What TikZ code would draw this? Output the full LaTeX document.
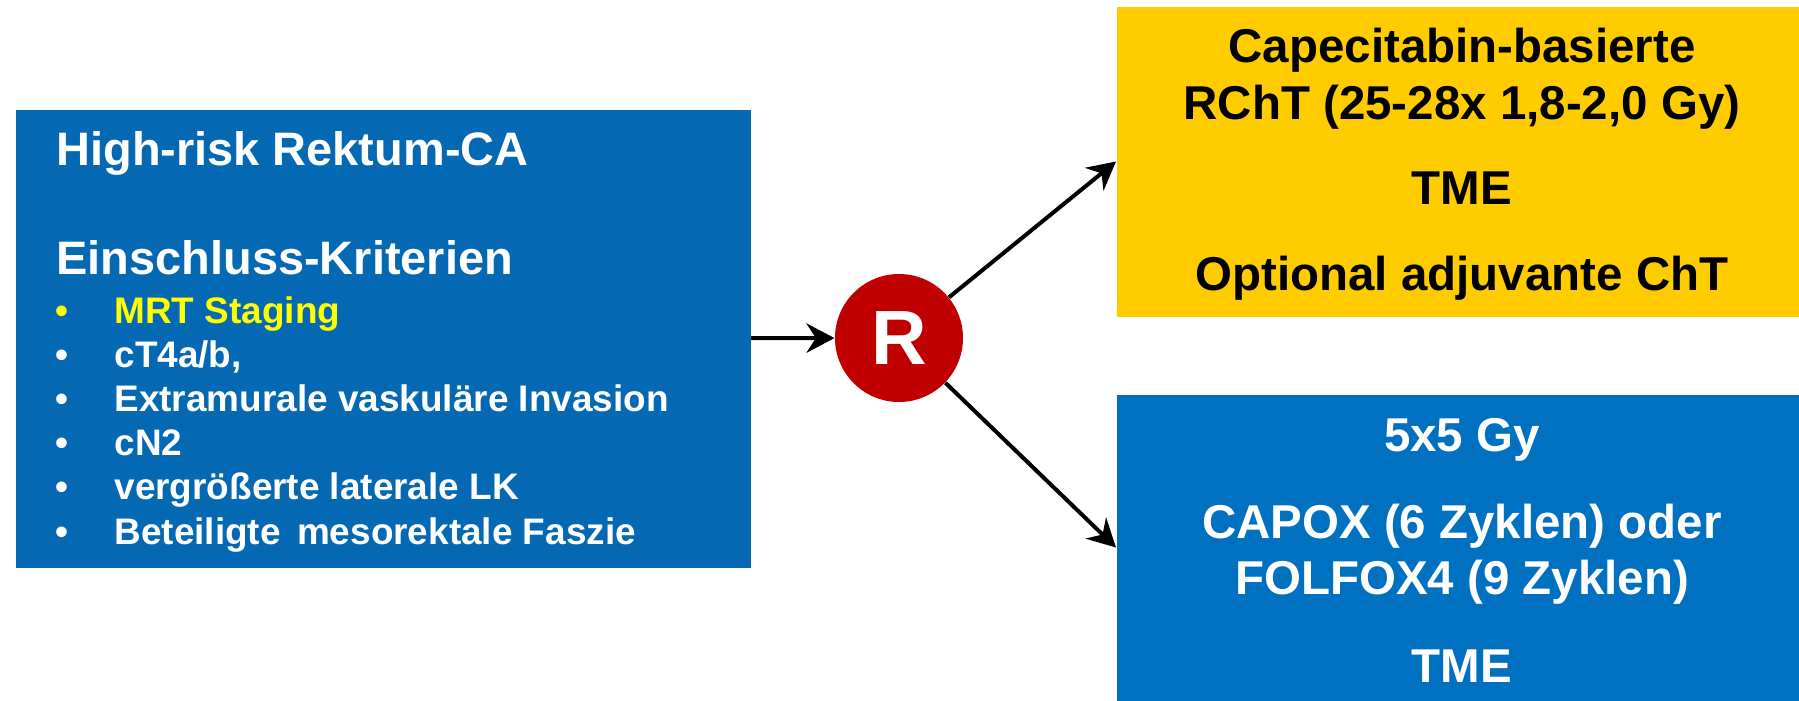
\documentclass[tikz,border=0pt]{standalone}
\usepackage{fontspec}
\setmainfont{Liberation Sans}
\usetikzlibrary{arrows.meta}

\definecolor{riskblue}{RGB}{4,105,178}
\definecolor{armblue}{RGB}{0,112,192}
\definecolor{armyellow}{RGB}{255,204,0}
\definecolor{randred}{RGB}{192,0,0}
\definecolor{hiyellow}{RGB}{255,255,0}

\tikzset{every picture/.style={line width=0.75pt}}
\tikzset{
  panel/.style={draw=none, inner sep=0pt, anchor=north west},
  headtext/.style={inner sep=0.75pt, anchor=base west, text=white, font=\fontsize{35.2}{40}\selectfont\bfseries},
  itemtext/.style={inner sep=0.75pt, anchor=base west, text=white, font=\fontsize{27.7}{32}\selectfont\bfseries},
  armtext/.style={inner sep=0.75pt, anchor=base, font=\fontsize{35.6}{40}\selectfont\bfseries},
  arr/.style={line width=3pt, -{Stealth[length=21pt, width=22pt, inset=7pt]}}
}

\begin{document}
\begin{tikzpicture}[x=0.75pt,y=0.75pt,yscale=-1,xscale=1]
\useasboundingbox (0,0) rectangle (1799,700);

%Shape: Rectangle [patient box]
\node (risk) [panel, fill=riskblue, minimum width=551.25pt, minimum height=343.5pt] at (15,109) {};
%Shape: Rectangle [arm A]
\node (capbox) [panel, fill=armyellow, minimum width=512.25pt, minimum height=232.5pt] at (1116,6) {};
%Shape: Rectangle [arm B]
\node (shortbox) [panel, fill=armblue, minimum width=512.25pt, minimum height=229.5pt] at (1116,394) {};
%Shape: Circle [randomisation]
\node (rand) [circle, fill=randred, inner sep=0pt, minimum size=96pt, text=white, font=\fontsize{57.7}{60}\selectfont\bfseries] at (899,338) {R};

%Straight Lines
\draw [arr] (risk) -- (rand);
\draw [arr] (rand) -- (capbox.west);
\draw [arr] (rand) -- (shortbox.west);

% Text Node
\node (riskhead) [headtext] at (55,165) {High-risk Rektum-CA};
% Text Node
\node (critHead) [headtext] at (55,274) {Einschluss-Kriterien};
% Text Node
\node (dotA) [itemtext, text=hiyellow] at (54,323) {•};
\node (critA) [itemtext, text=hiyellow] at (113,323) {MRT Staging};
% Text Node
\node (dotB) [itemtext] at (54,367) {•};
\node (critB) [itemtext] at (113,367) {cT4a/b,};
% Text Node
\node (dotC) [itemtext] at (54,411) {•};
\node (critC) [itemtext] at (113,411) {Extramurale vaskuläre Invasion};
% Text Node
\node (dotD) [itemtext] at (54,455) {•};
\node (critD) [itemtext] at (113,455) {cN2};
% Text Node
\node (dotE) [itemtext] at (54,499) {•};
\node (critE) [itemtext] at (113,499) {vergrößerte laterale LK};
% Text Node
\node (dotF) [itemtext] at (54,544) {•};
\node (critF) [itemtext] at (113,544) {Beteiligte\, mesorektale Faszie};

% Text Node
\node (capA) [armtext] at (1462,62) {Capecitabin-basierte};
\node (capB) [armtext] at (1462,119) {RChT (25-28x 1,8-2,0 Gy)};
\node (capC) [armtext] at (1462,204) {TME};
\node (capD) [armtext] at (1462,290) {Optional adjuvante ChT};

% Text Node
\node (shortA) [armtext, text=white] at (1462,451) {5x5 Gy};
\node (shortB) [armtext, text=white] at (1462,538) {CAPOX (6 Zyklen) oder};
\node (shortC) [armtext, text=white] at (1462,594) {FOLFOX4 (9 Zyklen)};
\node (shortD) [armtext, text=white] at (1462,682) {TME};

\end{tikzpicture}
\end{document}
